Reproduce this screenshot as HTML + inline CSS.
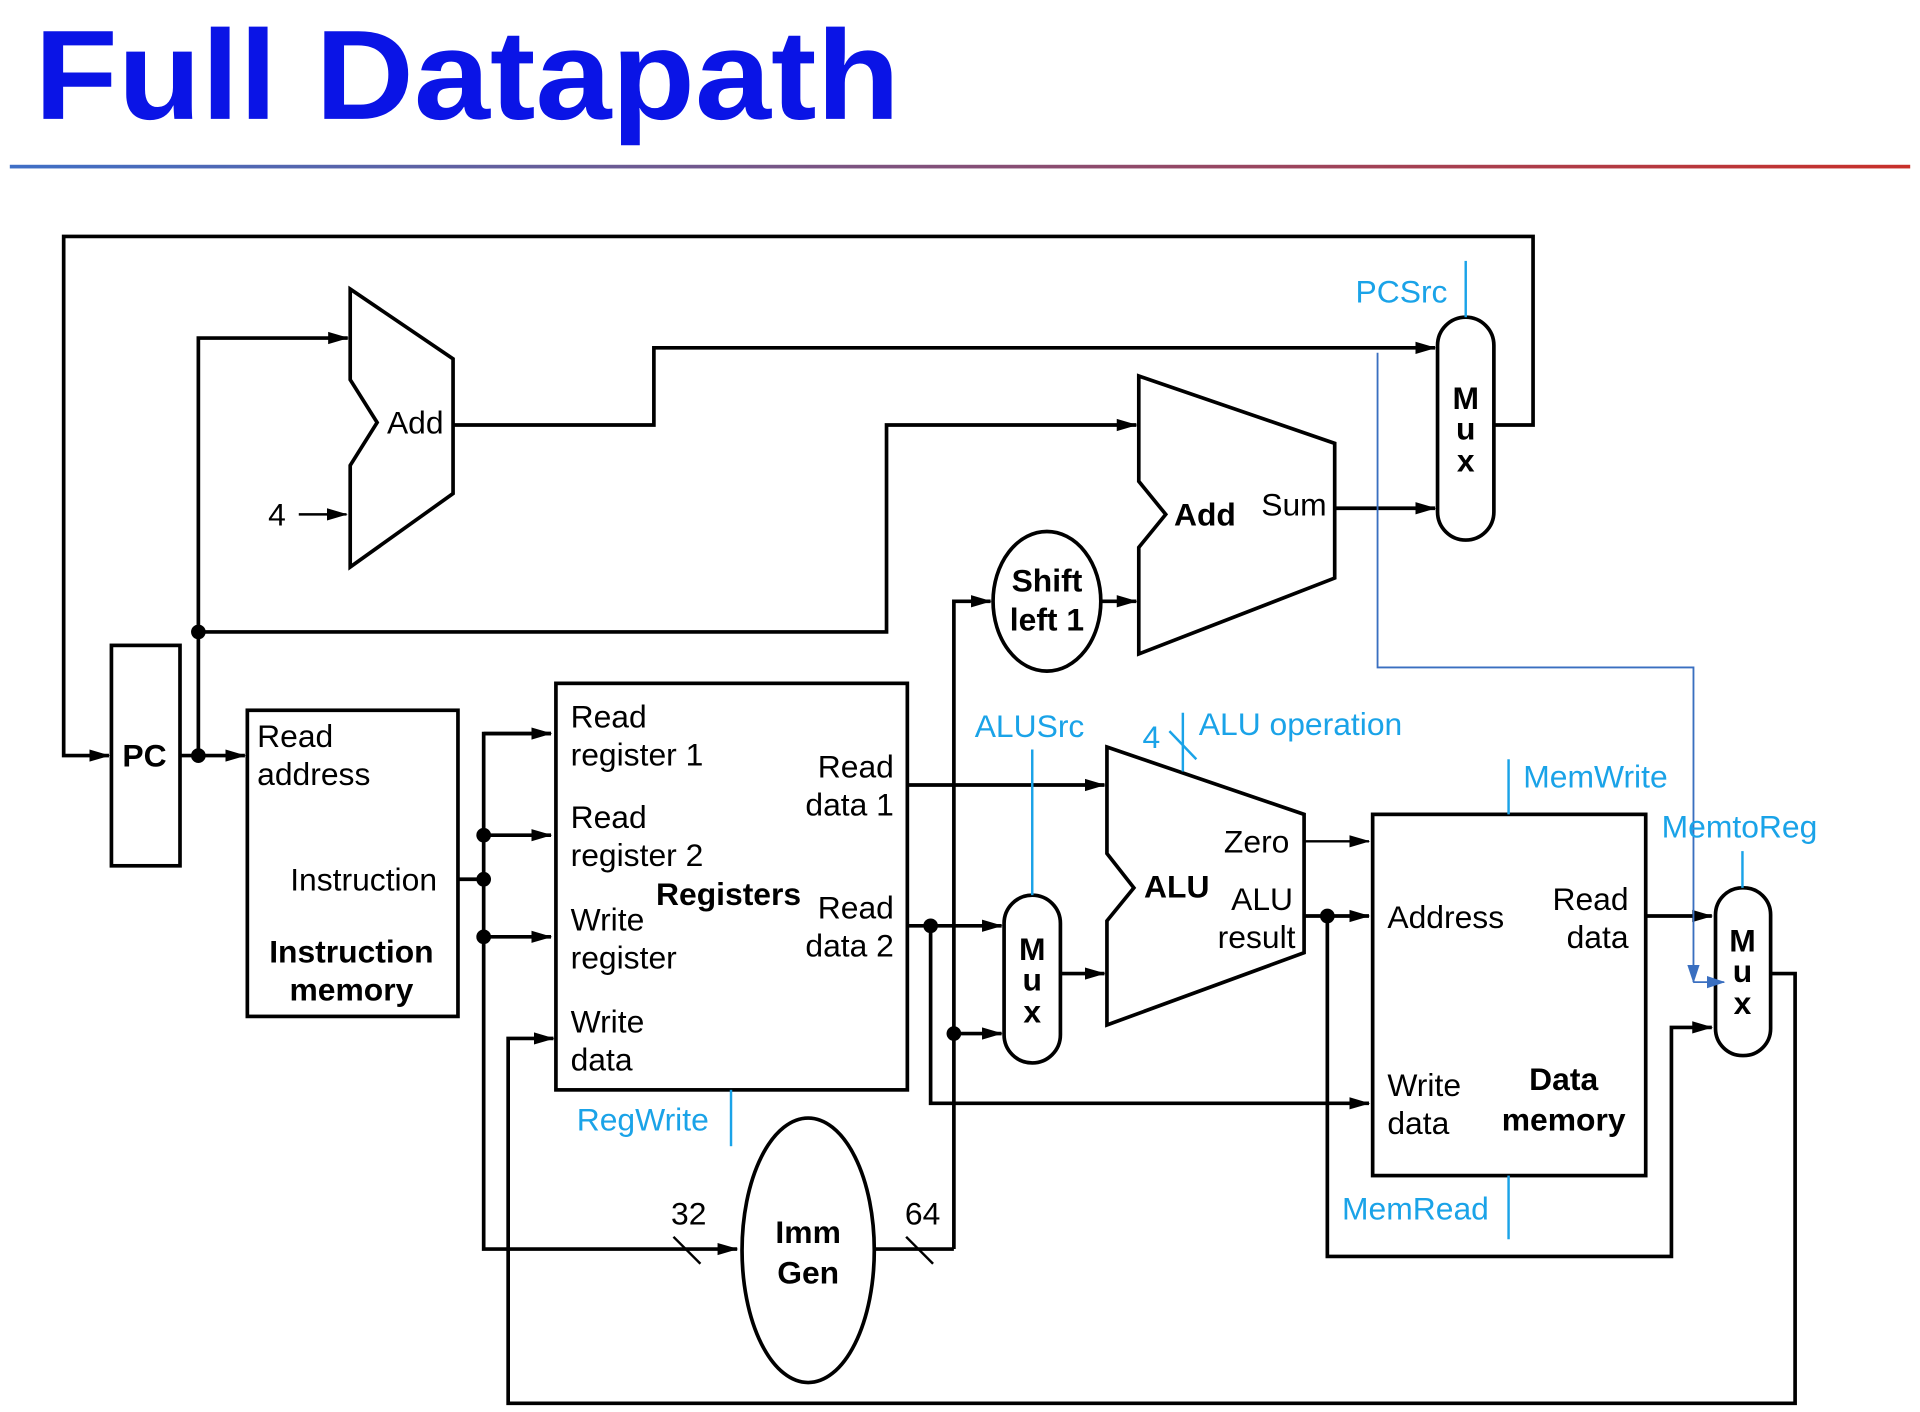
<!DOCTYPE html>
<html><head><meta charset="utf-8"><style>
html,body{margin:0;padding:0;background:#fff;}
svg{display:block;}
text{font-family:"Liberation Sans",Arial,sans-serif;}
</style></head><body>
<svg width="1920" height="1412" viewBox="0 0 1568 1153" xmlns="http://www.w3.org/2000/svg">
<defs>
<marker id="a" markerUnits="userSpaceOnUse" markerWidth="18" markerHeight="12" refX="16" refY="6" orient="auto"><path d="M0,1 L17,6 L0,11 z" fill="#000"/></marker>
<marker id="b" markerUnits="userSpaceOnUse" markerWidth="16" markerHeight="12" refX="14" refY="6" orient="auto"><path d="M0,1 L15,6 L0,11 z" fill="#3a6fc0"/></marker>
<linearGradient id="g" x1="0" x2="1"><stop offset="0" stop-color="#3f6fc6"/><stop offset="1" stop-color="#c8302a"/></linearGradient>
</defs>
<text x="28" y="97" font-size="104" font-weight="bold" fill="#0a14e6" textLength="707" lengthAdjust="spacingAndGlyphs">Full Datapath</text>
<rect x="8" y="134.5" width="1552" height="3" fill="url(#g)"/>

<g fill="none" stroke="#000" stroke-width="3">
<polyline points="1220,347 1252,347 1252,193 52,193 52,617 89,617" marker-end="url(#a)"/>
<rect x="91" y="527" width="56" height="180"/>
<line x1="147" y1="617" x2="200" y2="617" marker-end="url(#a)"/>
<polyline points="162,617 162,276 284,276" marker-end="url(#a)"/>
<polyline points="162,516 724,516 724,347 928,347" marker-end="url(#a)"/>
<polygon points="286,236 370,293 370,403 286,463 286,380 308,345 286,310"/>
<polyline points="370,347 534,347 534,284 1172,284" marker-end="url(#a)"/>
<rect x="1174" y="259" width="46" height="182" rx="23"/>
<polygon points="930,307 1090,362 1090,472 930,534 930,447 952,420 930,393"/>
<line x1="1090" y1="415" x2="1172" y2="415" marker-end="url(#a)"/>
<ellipse cx="855" cy="491" rx="44" ry="57"/>
<polyline points="779,1020 779,491 809,491" marker-end="url(#a)"/>
<line x1="899" y1="491" x2="928" y2="491" marker-end="url(#a)"/>
<rect x="202" y="580" width="172" height="250"/>
<line x1="374" y1="718" x2="395" y2="718"/>
<polyline points="450,599 395,599 395,1020 602,1020" marker-end="url(#a)"/>
<line x1="395" y1="599" x2="450" y2="599" marker-end="url(#a)"/>
<line x1="395" y1="682" x2="450" y2="682" marker-end="url(#a)"/>
<line x1="395" y1="765" x2="450" y2="765" marker-end="url(#a)"/>
<rect x="454" y="558" width="287" height="332"/>
<polyline points="1446,795 1466,795 1466,1146 415,1146 415,848 452,848" marker-end="url(#a)"/>
<line x1="741" y1="641" x2="902" y2="641" marker-end="url(#a)"/>
<line x1="741" y1="756" x2="818" y2="756" marker-end="url(#a)"/>
<polyline points="760,756 760,901 1118,901" marker-end="url(#a)"/>
<ellipse cx="660" cy="1021" rx="54" ry="108"/>
<line x1="714" y1="1020" x2="779" y2="1020"/>
<line x1="779" y1="844" x2="818" y2="844" marker-end="url(#a)"/>
<rect x="820" y="731" width="46" height="137" rx="23"/>
<line x1="866" y1="795" x2="902" y2="795" marker-end="url(#a)"/>
<polygon points="904,610 1065,665 1065,778 904,837 904,752 926,725 904,697"/>
<line x1="1065" y1="687" x2="1118" y2="687" marker-end="url(#a)" stroke-width="2"/>
<line x1="1065" y1="748" x2="1118" y2="748" marker-end="url(#a)"/>
<polyline points="1084,748 1084,1026 1365,1026 1365,839 1398,839" marker-end="url(#a)"/>
<rect x="1121" y="665" width="223" height="295"/>
<line x1="1344" y1="748" x2="1398" y2="748" marker-end="url(#a)"/>
<rect x="1401" y="725" width="45" height="137" rx="22"/>
</g>
<g fill="#000">
<circle cx="162" cy="617" r="6"/><circle cx="162" cy="516" r="6"/>
<circle cx="395" cy="718" r="6"/><circle cx="395" cy="682" r="6"/><circle cx="395" cy="765" r="6"/>
<circle cx="760" cy="756" r="6"/><circle cx="779" cy="844" r="6"/><circle cx="1084" cy="748" r="6"/>
</g>
<g stroke="#000" stroke-width="2" fill="none">
<line x1="244" y1="420" x2="283" y2="420" marker-end="url(#a)"/>
<line x1="550" y1="1010" x2="572" y2="1032"/>
<line x1="740" y1="1010" x2="762" y2="1032"/>
</g>
<g stroke="#1aa3e8" stroke-width="2" fill="none">
<line x1="1197" y1="213" x2="1197" y2="259"/>
<line x1="597" y1="890" x2="597" y2="936"/>
<line x1="843" y1="612" x2="843" y2="731"/>
<line x1="966" y1="582" x2="966" y2="630"/>
<line x1="955" y1="597" x2="977" y2="620"/>
<line x1="1232" y1="620" x2="1232" y2="665"/>
<line x1="1232" y1="960" x2="1232" y2="1012"/>
<line x1="1423" y1="695" x2="1423" y2="725"/>
</g>
<g stroke="#3a6fc0" stroke-width="1.5" fill="none">
<polyline points="1125,288 1125,545 1383,545 1383,802" marker-end="url(#b)"/>
<line x1="1383" y1="802" x2="1408" y2="802" marker-end="url(#b)"/>
</g>
<g font-size="26" fill="#000">
<text x="316" y="354">Add</text>
<text x="219" y="429">4</text>
<text x="1030" y="421">Sum</text>
<text x="210" y="610">Read</text><text x="210" y="641">address</text>
<text x="237" y="727">Instruction</text>
<text x="466" y="594">Read</text><text x="466" y="625">register 1</text>
<text x="466" y="676">Read</text><text x="466" y="707">register 2</text>
<text x="466" y="760">Write</text><text x="466" y="791">register</text>
<text x="466" y="843">Write</text><text x="466" y="874">data</text>
<g text-anchor="end">
<text x="730" y="635">Read</text><text x="730" y="666">data 1</text>
<text x="730" y="750">Read</text><text x="730" y="781">data 2</text>
<text x="1053" y="696">Zero</text>
<text x="1056" y="743">ALU</text><text x="1058" y="774">result</text>
<text x="1330" y="743">Read</text><text x="1330" y="774">data</text>
</g>
<text x="548" y="1000">32</text><text x="739" y="1000">64</text>
<text x="1133" y="758">Address</text>
<text x="1133" y="895">Write</text><text x="1133" y="926">data</text>
</g>
<g font-size="26" font-weight="bold" fill="#000" text-anchor="middle">
<text x="118" y="626">PC</text>
<text x="287" y="786">Instruction</text><text x="287" y="817">memory</text>
<text x="595" y="739">Registers</text>
<text x="984" y="429">Add</text>
<text x="855" y="483">Shift</text><text x="855" y="515">left 1</text>
<text x="660" y="1015">Imm</text><text x="660" y="1048">Gen</text>
<text x="961" y="733">ALU</text>
<text x="1277" y="890">Data</text><text x="1277" y="923">memory</text>
<text x="1197" y="334">M</text><text x="1197" y="359">u</text><text x="1197" y="385">x</text>
<text x="843" y="784">M</text><text x="843" y="809">u</text><text x="843" y="835">x</text>
<text x="1423" y="777">M</text><text x="1423" y="802">u</text><text x="1423" y="828">x</text>
</g>
<g font-size="26" fill="#1aa3e8">
<text x="1107" y="247">PCSrc</text>
<text x="471" y="923">RegWrite</text>
<text x="796" y="602">ALUSrc</text>
<text x="933" y="611">4</text>
<text x="979" y="600">ALU operation</text>
<text x="1244" y="643">MemWrite</text>
<text x="1357" y="684">MemtoReg</text>
<text x="1096" y="996">MemRead</text>
</g>
</svg>
</body></html>
